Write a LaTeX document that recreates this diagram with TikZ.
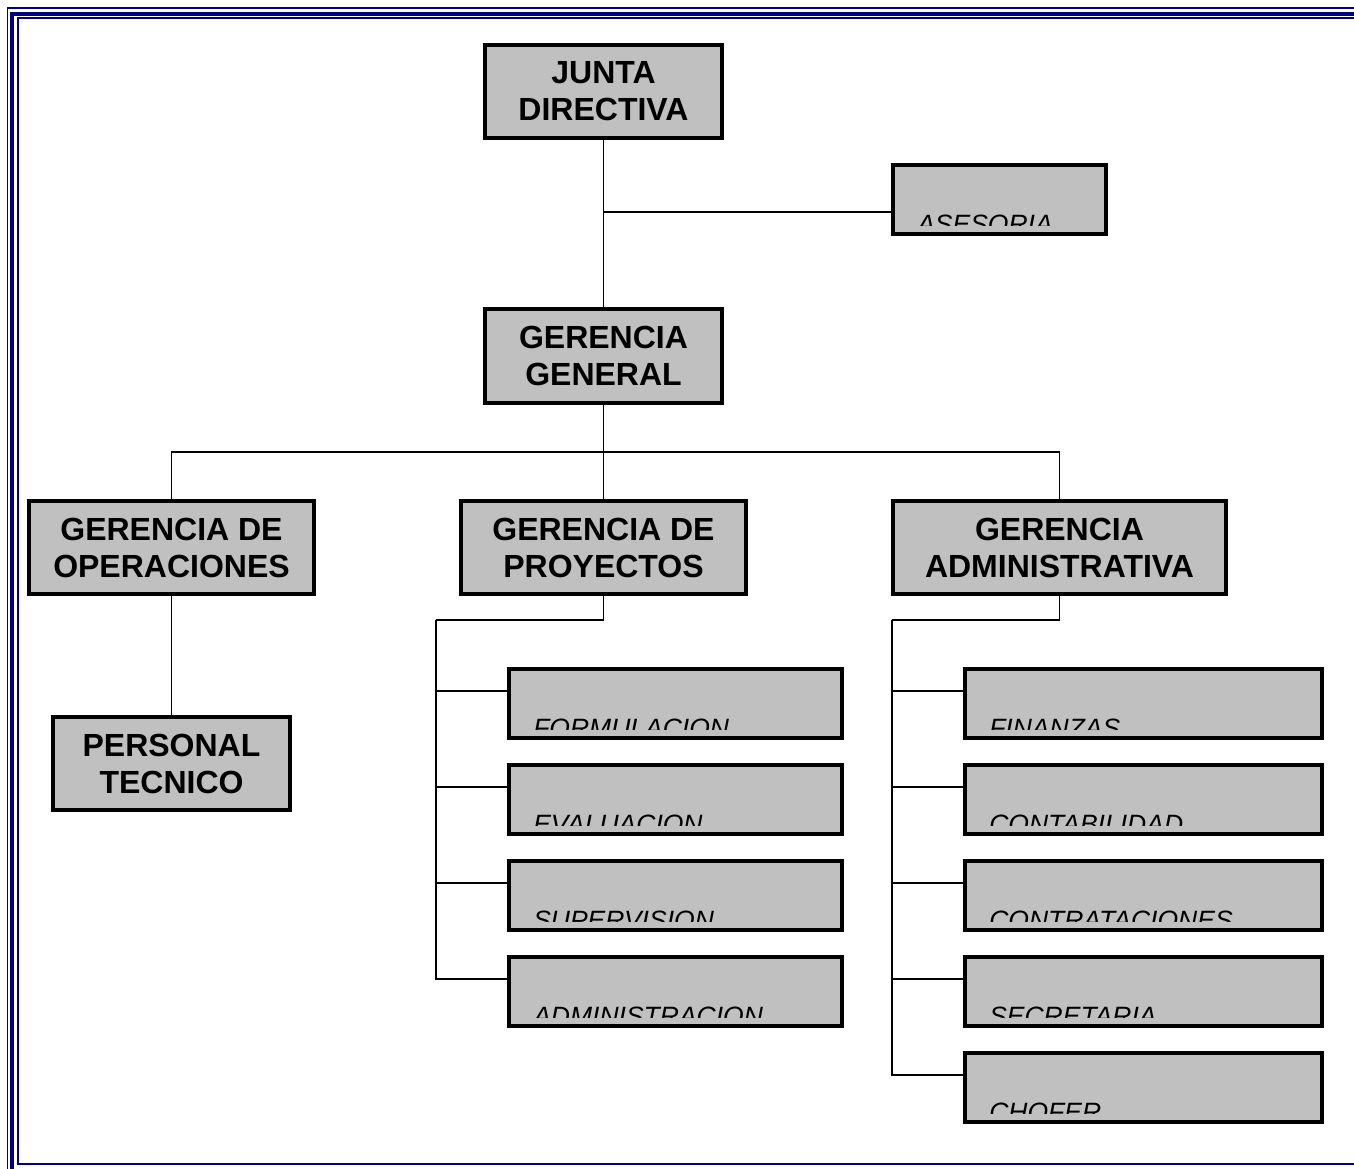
\documentclass[tikz,border=0pt]{standalone}
\usepackage{fontspec}
\setmainfont{Liberation Sans}
\definecolor{boxgray}{HTML}{C0C0C0}
\definecolor{framenavy}{HTML}{000080}
\begin{document}
\begin{tikzpicture}[x=1pt,y=-1pt,
  box/.style={draw=black, line width=3.8pt, fill=boxgray, inner sep=0pt,
    align=center, minimum height=93.5pt,
    font=\bfseries\fontsize{32}{37}\selectfont},
  unitlabel/.style={anchor=base west, inner sep=0pt, outer sep=0pt,
    minimum width=0pt, minimum height=0pt, draw=none, fill=none,
    font=\itshape\fontsize{26.5}{30}\selectfont},
  unit/.style={draw=black, line width=3.8pt, fill=boxgray, inner sep=0pt,
    minimum height=69.5pt,
    path picture={
      \clip (path picture bounding box.north west)
        rectangle ([yshift=9pt]path picture bounding box.south east);
      \node[unitlabel]
        at ([xshift=24.5pt,yshift=1pt]path picture bounding box.south west) {#1};}},
  link/.style={draw=black, line width=1.5pt},
  rule/.style={draw=framenavy}]

% page size and frame
\clip (0,0) rectangle (1354,1168);
\fill[white] (0,0) rectangle (1354,1168);
\draw[rule, line width=1.2pt] (7.5,8) rectangle (1420,1190);
\draw[rule, line width=3.8pt] (11.7,13.7) rectangle (1420,1190);
\draw[rule, line width=2pt]   (18,18.2) rectangle (1420,1164);

% top levels
\node[box, minimum width=237.5pt] (JD) at (603.5,91.5) {JUNTA\\DIRECTIVA};
\node[unit={ASESORIA}, minimum width=213.5pt] (AS) at (999.5,199.5) {};
\node[box, minimum width=237.5pt] (GG) at (603.5,356) {GERENCIA\\GENERAL};

% management
\node[box, minimum width=285.5pt] (GO) at (171.5,547.5) {GERENCIA DE\\OPERACIONES};
\node[box, minimum width=285.5pt] (GP) at (603.5,547.5) {GERENCIA DE\\PROYECTOS};
\node[box, minimum width=333.5pt] (GA) at (1059.5,547.5) {GERENCIA\\ADMINISTRATIVA};
\node[box, minimum width=237.5pt] (PT) at (171.5,763.5) {PERSONAL\\TECNICO};

% project units
\node[unit={FORMULACION},    minimum width=333.5pt] (FO) at (675.5,703.5) {};
\node[unit={EVALUACION},     minimum width=333.5pt] (EV) at (675.5,799.5) {};
\node[unit={SUPERVISION},    minimum width=333.5pt] (SU) at (675.5,895.5) {};
\node[unit={ADMINISTRACION}, minimum width=333.5pt] (AD) at (675.5,991.5) {};

% administrative units
\node[unit={FINANZAS},       minimum width=357.5pt] (FI) at (1143.5,703.5) {};
\node[unit={CONTABILIDAD},   minimum width=357.5pt] (CO) at (1143.5,799.5) {};
\node[unit={CONTRATACIONES}, minimum width=357.5pt] (CT) at (1143.5,895.5) {};
\node[unit={SECRETARIA},     minimum width=357.5pt] (SE) at (1143.5,991.5) {};
\node[unit={CHOFER},         minimum width=357.5pt] (CH) at (1143.5,1087.5) {};

% junction points
\coordinate (aslink) at ([yshift=-12.5pt]AS.west);
\coordinate (bus) at (603.5,452);
\coordinate (pdrop) at (603.5,620);
\coordinate (pspine) at (436,620);
\coordinate (adrop) at (1059.5,620);
\coordinate (aspine) at (892,620);

% connectors
\draw[link] (JD.south) -- (GG.north);
\draw[link] (JD.south |- aslink) -- (aslink);
\draw[link] (GG.south) -- (bus);
\draw[link] (GO.north) |- (bus) -| (GA.north);
\draw[link] (bus) -- (GP.north);
\draw[link] (GO.south) -- (PT.north);

\draw[link] (GP.south) -- (pdrop) -- (pspine);
\foreach \u in {FO,EV,SU,AD}
  \draw[link] (pspine) |- ([yshift=12.5pt]\u.west);

\draw[link] (GA.south) -- (adrop) -- (aspine);
\foreach \u in {FI,CO,CT,SE,CH}
  \draw[link] (aspine) |- ([yshift=12.5pt]\u.west);
\end{tikzpicture}
\end{document}
